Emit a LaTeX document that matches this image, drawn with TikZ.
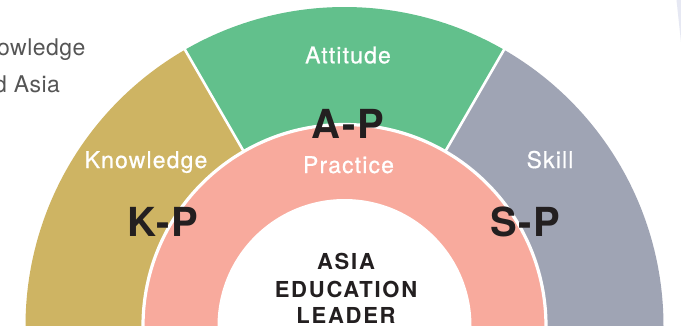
\documentclass[tikz,border=0pt]{standalone}
\usepackage{fontspec}
\setmainfont{TeX Gyre Heros}
\definecolor{kgold}{HTML}{CEB463}
\definecolor{agreen}{HTML}{62C08C}
\definecolor{sgray}{HTML}{9FA4B4}
\definecolor{ppink}{HTML}{F8AA9D}
\definecolor{inkblack}{HTML}{231F20}
\definecolor{capgray}{HTML}{555555}
\definecolor{lav}{HTML}{E6E8F3}
\begin{document}
\begin{tikzpicture}[x=1pt,y=1pt,
  lbl/.style={text=white,font=\fontsize{23}{26}\selectfont\addfontfeature{LetterSpace=5,FakeBold=0.6},inner sep=0pt,anchor=base},
  big/.style={text=inkblack,font=\fontsize{40}{42}\selectfont\bfseries\addfontfeature{LetterSpace=4},inner sep=0pt,anchor=base},
  core/.style={text=inkblack,font=\fontsize{22}{24}\selectfont\bfseries\addfontfeature{LetterSpace=8},inner sep=0pt,anchor=base},
  captext/.style={text=capgray,font=\fontsize{23}{27}\selectfont\addfontfeature{LetterSpace=2},inner sep=0pt,anchor=base west},
  sepline/.style={white,line width=2.6pt}]
\clip (0,0) rectangle (681,325);
\fill[white] (0,0) rectangle (681,325);
\coordinate (C) at (344.5,-1);
% outer sectors
\fill[kgold] (C) -- +(120:319) arc[start angle=120,end angle=182,radius=319] -- cycle;
\fill[agreen] (C) -- +(60:319) arc[start angle=60,end angle=120,radius=319] -- cycle;
\fill[sgray] (C) -- +(-2:319) arc[start angle=-2,end angle=60,radius=319] -- cycle;
% radial separators
\draw[sepline] (C) ++(120:195) -- +(120:140);
\draw[sepline] (C) ++(60:195) -- +(60:140);
% practice ring
\fill[ppink] (C) circle[radius=201.5];
\draw[white,line width=3.2pt] (C) circle[radius=201.5];
\fill[white] (C) circle[radius=127];
% right-edge sliver
\fill[lav] (676.5,325) -- (681,325) -- (681,283) -- cycle;
% texts
\node[captext] (t1) at (-3,270) {owledge};
\node[captext] (t2) at (-6,233) {d Asia};
\node[lbl] (att) at (348,261.7) {Attitude};
\node[lbl] (kno) at (146,157) {Knowledge};
\node[lbl] (ski) at (550,157) {Skill};
\node[lbl] (pra) at (348.5,152) {Practice};
\node[big] (ap) at (348,187) {A-P};
\node[big] (kp) at (163,88.3) {K-P};
\node[big] (sp) at (525,88.3) {S-P};
\node[core] (l1) at (346,56) {ASIA};
\node[core] (l2) at (346,28) {EDUCATION};
\node[core] (l3) at (346,2) {LEADER};
\end{tikzpicture}
\end{document}
